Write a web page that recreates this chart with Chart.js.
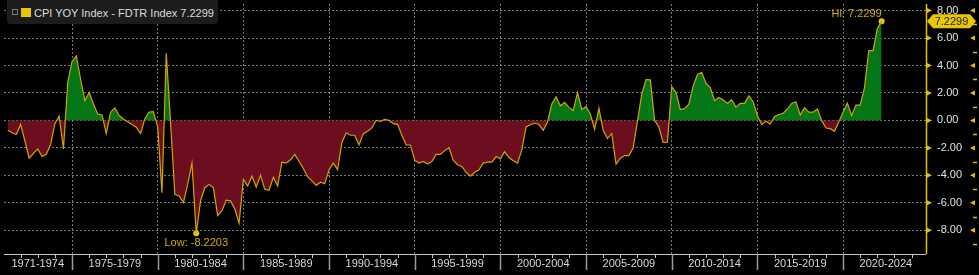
<!DOCTYPE html>
<html>
<head>
<meta charset="utf-8">
<script src="https://cdn.jsdelivr.net/npm/chart.js@4.4.0/dist/chart.umd.min.js"></script>
<style>
  body { margin: 0; background: #000; }
  #wrap { position: relative; width: 979px; height: 275px; }
  #legend {
    position: absolute; left: 7px; top: 0; width: 211px; height: 24px;
    background: #1c1c1c; border-radius: 0 0 4px 4px;
    font: 11px "Liberation Sans", Arial, sans-serif; color: #dcdcdc;
  }
  #legend .ico { position: absolute; left: 5px; top: 9px; width: 4px; height: 4px; border: 1px solid #777; }
  #legend .sq { position: absolute; left: 14px; top: 8px; width: 10px; height: 9px; background: #e8c600; }
  #legend .txt { position: absolute; left: 27px; top: 7px; white-space: nowrap; }
</style>
</head>
<body>
<div id="wrap">
  <canvas id="chart"></canvas>
  <div id="legend"><span class="ico"></span><span class="sq"></span><span class="txt">CPI YOY Index - FDTR Index 7.2299</span></div>
</div>
<script>
// quarterly CPI YoY minus Fed funds target, first point = end of 1971 Q1
const startYear = 1971.25
const spread = [
  -0.72, -0.9, -1.03, -0.29, -1.5, -2.75, -2.4, -2.08,
  -2.63, -2.47, -1.75, -0.24, 0.31, -2.08, 2.75, 4.3,
  4.7, 3.0, 1.43, 2.03, 1.2, 0.47, 0.4, -0.96,
  0.6, 0.9, 0.36, 0.1, -0.1, -0.3, -0.5, -0.96,
  0.12, 0.6, 0.64, -0.48, -5.26, 4.9, -0.12, -5.38,
  -5.5, -5.98, -4.66, -3.11, -8.2203, -5.86, -4.9, -4.66,
  -4.9, -6.93, -6.57, -5.81, -5.86, -6.45, -7.48, -4.3,
  -4.78, -4.06, -4.85, -3.99, -5.02, -5.09, -4.14, -4.78,
  -3.04, -3.11, -2.87, -2.47, -2.99, -3.5, -4.1, -4.4,
  -4.73, -4.5, -4.61, -3.6, -3.11, -3.58, -1.6, -0.9,
  -1.08, -1.08, -1.79, -0.96, -0.79, -0.55, 0, -0.07,
  0.07, 0, -0.24, -0.29, -1.08, -1.79, -1.79, -2.9,
  -3.11, -2.99, -3.18, -2.99, -2.47, -2.47, -2.2, -1.99,
  -2.9, -3.23, -3.35, -3.78, -4.06, -3.78, -3.6, -3.11,
  -3.04, -3.04, -2.63, -2.8, -2.27, -2.7, -2.94, -3.11,
  -2.15, -0.48, -0.31, -0.19, -0.3, -0.72, -0.12, 1.19,
  1.72, 1.07, 1.31, 0.95, 0.72, 2.03, 0.8, 1.0,
  0.47, -0.65, 0.9, -0.72, -1.32, -0.96, -3.18, -2.75,
  -2.56, -2.56, -1.99, -0.07, 1.91, 2.98, 2.96, 0,
  -0.48, -1.6, -1.58, 2.46, 2.03, 0.79, 0.86, 1.19,
  2.51, 3.34, 3.51, 2.7, 2.39, 1.43, 1.67, 1.51,
  1.24, 1.51, 0.95, 1.24, 1.24, 1.79, 1.36, 0.36,
  -0.31, -0.07, -0.26, 0.29, 0.43, 0.52, 0.83, 1.24,
  1.36, 0.4, 0.93, 0.6, 0.6, 0.83, 0, -0.55,
  -0.6, -0.79, -0.12, 0.6, 1.26, 0.36, 1.12, 1.12,
  2.39, 5.09, 5.09, 6.69, 7.2299
]
const periods = ['1971-1974', '1975-1979', '1980-1984', '1985-1989', '1990-1994',
  '1995-1999', '2000-2004', '2005-2009', '2010-2014', '2015-2019', '2020-2024']
const periodStarts = [1971, 1975, 1980, 1985, 1990, 1995, 2000, 2005, 2010, 2015, 2020]
const periodEnd = 2025
const yTicks = [-8, -6, -4, -2, 0, 2, 4, 6, 8]
const yMinor = [-9, -7, -5, -3, -1, 1, 3, 5, 7]

const gridCol = 'rgba(185,185,185,0.65)'
const yellow = '#e3c000'
const font = '"Liberation Sans", Arial, sans-serif'

const points = spread.map((v, i) => ({x: startYear + i * 0.25, y: v}))
let hiI = 0, loI = 0
spread.forEach((v, i) => {
  if (v > spread[hiI]) hiI = i
  if (v < spread[loI]) loI = i
})
const extremes = [points[hiI], points[loI]]

const mids = periods.map((p, i) => ((periodStarts[i] + (periodStarts[i + 1] || periodEnd)) / 2))

const decor = {
  id: 'decor',
  afterDraw(chart) {
    const {ctx, chartArea: a} = chart
    const x = chart.scales.x, y = chart.scales.y
    ctx.save()
    // bottom axis line + ticks
    ctx.strokeStyle = '#c8c8c8'
    ctx.lineWidth = 1
    ctx.beginPath()
    ctx.moveTo(a.left, a.bottom + 0.5); ctx.lineTo(a.right, a.bottom + 0.5)
    for (let yr = 1972; yr < periodEnd; yr++) {
      if (yr % 5 === 0) continue
      const px = Math.round(x.getPixelForValue(yr)) + 0.5
      ctx.moveTo(px, a.bottom); ctx.lineTo(px, a.bottom + 4)
    }
    ctx.stroke()
    ctx.strokeStyle = '#9a9a9a'
    ctx.lineWidth = 1.5
    ctx.beginPath()
    periodStarts.slice(1).forEach(yr => {
      const px = Math.round(x.getPixelForValue(yr)) + 0.5
      ctx.moveTo(px, a.bottom); ctx.lineTo(px, a.bottom + 16)
    })
    ctx.stroke()

    // right axis
    ctx.strokeStyle = yellow
    ctx.lineWidth = 1.5
    ctx.beginPath()
    ctx.moveTo(a.right + 0.5, a.top); ctx.lineTo(a.right + 0.5, a.bottom)
    yMinor.forEach(v => {
      const py = Math.round(y.getPixelForValue(v)) + 0.5
      ctx.moveTo(a.right + 47, py); ctx.lineTo(a.right + 51, py)
    })
    ctx.stroke()
    ctx.fillStyle = yellow
    yTicks.forEach(v => {
      const py = y.getPixelForValue(v)
      ctx.beginPath()
      ctx.moveTo(a.right + 1, py - 2.5); ctx.lineTo(a.right + 6, py); ctx.lineTo(a.right + 1, py + 2.5)
      ctx.fill()
      ctx.beginPath()
      ctx.moveTo(a.right + 49, py - 2.5); ctx.lineTo(a.right + 44, py); ctx.lineTo(a.right + 49, py + 2.5)
      ctx.fill()
    })

    // last value tag
    const last = spread[spread.length - 1]
    const ty = y.getPixelForValue(last)
    const l = a.right + 1, r = a.right + 50
    ctx.fillStyle = '#e8c800'
    ctx.beginPath()
    ctx.moveTo(l, ty); ctx.lineTo(l + 6, ty - 7); ctx.lineTo(r - 6, ty - 7)
    ctx.lineTo(r, ty); ctx.lineTo(r - 6, ty + 7); ctx.lineTo(l + 6, ty + 7)
    ctx.closePath(); ctx.fill()
    ctx.fillStyle = '#1a1a1a'
    ctx.font = '11px ' + font
    ctx.textAlign = 'center'; ctx.textBaseline = 'middle'
    ctx.fillText(last.toFixed(4), (l + r) / 2, ty + 0.5)

    // hi / low labels
    ctx.fillStyle = '#cfae00'
    ctx.font = '11px ' + font
    const hx = x.getPixelForValue(points[hiI].x), hy = y.getPixelForValue(points[hiI].y)
    ctx.textAlign = 'right'
    ctx.fillText('Hi: ' + spread[hiI].toFixed(4), hx, hy - 7)
    const lx = x.getPixelForValue(points[loI].x), ly = y.getPixelForValue(points[loI].y)
    ctx.textAlign = 'center'
    ctx.fillText('Low: ' + spread[loI].toFixed(4), lx, ly + 10)
    ctx.restore()
  }
}

new Chart(document.getElementById('chart'), {
  type: 'line',
  data: {
    datasets: [
      {
        data: points,
        borderColor: '#cfa600',
        borderWidth: 1.2,
        pointRadius: 0,
        tension: 0,
        fill: {target: {value: 0}, above: '#067717', below: '#6c0e1f'}
      },
      {
        type: 'scatter',
        data: extremes,
        pointRadius: 3,
        pointBackgroundColor: '#e8c800',
        pointBorderWidth: 0
      }
    ]
  },
  options: {
    responsive: true,
    maintainAspectRatio: false,
    animation: false,
    events: [],
    layout: {padding: 0},
    plugins: {legend: {display: false}, tooltip: {enabled: false}},
    scales: {
      x: {
        type: 'linear',
        min: 1971.03,
        max: 2024.84,
        z: 1,
        afterBuildTicks: s => {
          const t = []
          periods.forEach((p, i) => {
            if (i > 0) t.push({value: periodStarts[i]})
            t.push({value: mids[i]})
          })
          s.ticks = t
        },
        afterFit: s => { s.height = 21; s.paddingLeft = 0; s.paddingRight = 0 },
        ticks: {
          autoSkip: false, maxRotation: 0, padding: 3,
          color: '#d8d8d8', font: {size: 11, family: font},
          callback: v => {
            const i = mids.indexOf(v)
            return i >= 0 ? periods[i] : ''
          }
        },
        grid: {
          drawTicks: false,
          color: c => (c.tick && c.tick.value % 5 === 0) ? gridCol : 'rgba(0,0,0,0)'
        },
        border: {display: false, dash: [2, 2]}
      },
      y: {
        position: 'right',
        min: -9.73,
        max: 8.48,
        z: 1,
        afterBuildTicks: s => { s.ticks = yTicks.map(v => ({value: v})) },
        afterFit: s => { s.width = 53; s.paddingTop = 0; s.paddingBottom = 0 },
        ticks: {
          padding: 11,
          color: '#e2e2e2', font: {size: 11, family: font},
          callback: v => v.toFixed(2)
        },
        grid: {drawTicks: false, color: gridCol},
        border: {display: false, dash: [2, 2]}
      }
    }
  },
  plugins: [decor]
})
</script>
</body>
</html>
